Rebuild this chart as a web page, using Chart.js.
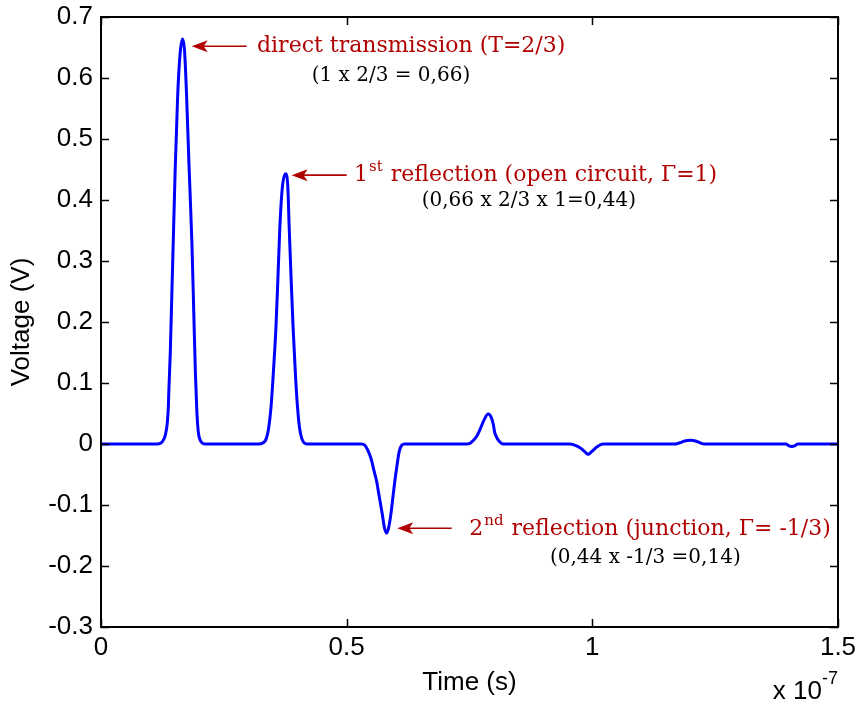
<!DOCTYPE html>
<html>
<head>
<meta charset="utf-8">
<script src="https://cdn.jsdelivr.net/npm/chart.js@4"></script>
<style>
  body { margin: 0; background: #fff; }
  canvas { display: block; }
</style>
</head>
<body>
<canvas id="chart" width="858" height="704"></canvas>
<script>
// Time in units of 1e-7 s, voltage in V
const timeValues = [
  0, 0.115, 0.125, 0.131, 0.135, 0.137, 0.138, 0.141, 0.144, 0.147, 0.151, 0.156, 0.161, 0.166, 0.170, 0.174, 0.179, 0.185, 0.189, 0.192, 0.195, 0.198, 0.202, 0.207, 0.212,
  0.320, 0.330, 0.336, 0.341, 0.346, 0.351, 0.356, 0.360, 0.364, 0.369, 0.3755, 0.380, 0.383, 0.387, 0.391, 0.396, 0.400, 0.404, 0.409, 0.419,
  0.530, 0.537, 0.543, 0.550, 0.556, 0.561, 0.566, 0.5725, 0.577, 0.5815, 0.586, 0.590, 0.594, 0.598, 0.603, 0.607, 0.612, 0.618,
  0.745, 0.751, 0.758, 0.765, 0.772, 0.780, 0.788, 0.794, 0.7985, 0.801, 0.804, 0.810, 0.819,
  0.955, 0.961, 0.975, 0.985, 0.9915, 0.998, 1.009, 1.022,
  1.170, 1.178, 1.188, 1.199, 1.210, 1.222, 1.228,
  1.394, 1.400, 1.406, 1.412, 1.418, 1.5
];
const voltageValues = [
  0, 0, 0.004, 0.015, 0.035, 0.06, 0.085, 0.15, 0.24, 0.33, 0.45, 0.57, 0.64, 0.664, 0.645, 0.575, 0.46, 0.33, 0.21, 0.12, 0.055, 0.02, 0.006, 0.001, 0,
  0, 0.002, 0.008, 0.025, 0.06, 0.12, 0.19, 0.27, 0.355, 0.42, 0.443, 0.425, 0.355, 0.27, 0.19, 0.11, 0.06, 0.027, 0.008, 0,
  0, -0.002, -0.010, -0.025, -0.045, -0.061, -0.085, -0.115, -0.138, -0.146, -0.135, -0.115, -0.088, -0.061, -0.032, -0.012, -0.002, 0,
  0, 0.001, 0.006, 0.013, 0.025, 0.040, 0.049, 0.044, 0.032, 0.020, 0.013, 0.005, 0,
  0, -0.001, -0.006, -0.013, -0.017, -0.013, -0.005, 0,
  0, 0.002, 0.005, 0.006, 0.005, 0.001, 0,
  0, -0.003, -0.004, -0.003, 0, 0
];

const xTicks = [0, 0.5, 1, 1.5];
const yTicks = [-0.3, -0.2, -0.1, 0, 0.1, 0.2, 0.3, 0.4, 0.5, 0.6, 0.7];

// annotation texts: [before superscript, superscript, after superscript]
const noteTitles = [
  ['direct transmission (T=2/3)', '', ''],
  ['1', 'st', ' reflection (open circuit, \u0393=1)'],
  ['2', 'nd', ' reflection (junction, \u0393= -1/3)']
];
const noteFormulas = ['(1 x 2/3 = 0,66)', '(0,66 x 2/3 x 1=0,44)', '(0,44 x -1/3 =0,14)'];

// annotation placement, in data units
const noteLayout = [
  { tip: [0.1846, 0.652], tail: 0.2965, text: [0.3175, 0.6425], sub: [0.4288, 0.5954] },
  { tip: [0.388, 0.4407], tail: 0.500, text: [0.515, 0.4312], sub: [0.6527, 0.3901] },
  { tip: [0.603, -0.138], tail: 0.7138, text: [0.7496, -0.1489], sub: [0.9138, -0.1944] }
];

const axisFont = { family: 'Liberation Sans, Arial, sans-serif', size: 26 };
const noteColor = '#b00000';
const titleFont = '22px "DejaVu Serif", serif';
const supFont = '15px "DejaVu Serif", serif';
const formulaFont = '20px "DejaVu Serif", serif';

const framePlugin = {
  id: 'frame',
  afterDatasetsDraw(chart) {
    const { ctx, chartArea: a, scales } = chart;
    ctx.save();
    ctx.strokeStyle = '#000';
    ctx.lineWidth = 1.5;
    ctx.beginPath();
    yTicks.forEach(v => {
      const y = Math.round(scales.y.getPixelForValue(v)) + 0.5;
      ctx.moveTo(a.left, y); ctx.lineTo(a.left + 8, y);
      ctx.moveTo(a.right, y); ctx.lineTo(a.right - 8, y);
    });
    xTicks.forEach(v => {
      const x = Math.round(scales.x.getPixelForValue(v)) + 0.5;
      ctx.moveTo(x, a.bottom); ctx.lineTo(x, a.bottom - 8);
      ctx.moveTo(x, a.top); ctx.lineTo(x, a.top + 8);
    });
    ctx.stroke();
    ctx.lineWidth = 2;
    ctx.strokeRect(a.left, a.top, a.right - a.left, a.bottom - a.top);
    ctx.restore();
  }
};

const notesPlugin = {
  id: 'notes',
  afterDraw(chart) {
    const { ctx, scales } = chart;
    const px = v => scales.x.getPixelForValue(v);
    const py = v => scales.y.getPixelForValue(v);
    ctx.save();
    noteLayout.forEach((n, i) => {
      const tx = px(n.tip[0]), ty = py(n.tip[1]);
      const sx = px(n.tail);
      // arrow
      ctx.strokeStyle = noteColor;
      ctx.fillStyle = noteColor;
      ctx.lineWidth = 1.6;
      ctx.beginPath();
      ctx.moveTo(sx, ty); ctx.lineTo(tx + 10, ty);
      ctx.stroke();
      ctx.beginPath();
      ctx.moveTo(tx, ty);
      ctx.lineTo(tx + 16, ty - 6);
      ctx.lineTo(tx + 12, ty);
      ctx.lineTo(tx + 16, ty + 6);
      ctx.closePath();
      ctx.fill();

      // title with optional superscript
      let x = px(n.text[0]);
      const base = py(n.text[1]);
      const [pre, sup, post] = noteTitles[i];
      ctx.textBaseline = 'alphabetic';
      ctx.textAlign = 'left';
      ctx.font = titleFont;
      ctx.fillText(pre, x, base);
      x += ctx.measureText(pre).width;
      if (sup) {
        ctx.font = supFont;
        ctx.fillText(sup, x + 1, base - 10);
        x += ctx.measureText(sup).width + 2;
        ctx.font = titleFont;
        ctx.fillText(post, x, base);
      }

      ctx.fillStyle = '#000';
      ctx.font = formulaFont;
      ctx.fillText(noteFormulas[i], px(n.sub[0]), py(n.sub[1]));
    });

    // axis multiplier
    const a = chart.chartArea;
    ctx.fillStyle = '#000';
    ctx.font = '26px ' + axisFont.family;
    ctx.textAlign = 'right';
    ctx.fillText('x 10', a.right - 16, 699);
    ctx.font = '18px ' + axisFont.family;
    ctx.textAlign = 'left';
    ctx.fillText('-7', a.right - 16, 684);
    ctx.restore();
  }
};

const points = timeValues.map((t, i) => ({ x: t, y: voltageValues[i] }));

new Chart(document.getElementById('chart'), {
  type: 'line',
  data: {
    datasets: [{
      data: points,
      borderColor: '#0000ff',
      borderWidth: 3,
      pointRadius: 0,
      fill: false,
      cubicInterpolationMode: 'monotone'
    }]
  },
  options: {
    responsive: false,
    devicePixelRatio: 1,
    animation: false,
    layout: { padding: { top: 17, right: 20, left: 0, bottom: 0 } },
    plugins: { legend: { display: false }, tooltip: { enabled: false } },
    scales: {
      x: {
        type: 'linear',
        min: 0,
        max: 1.5,
        afterFit: s => { s.height = 77; s.paddingLeft = 0; s.paddingRight = 0; },
        afterBuildTicks: s => { s.ticks = xTicks.map(v => ({ value: v })); },
        grid: { display: false, drawTicks: false },
        border: { display: false },
        ticks: {
          color: '#000',
          font: axisFont,
          padding: 5,
          maxRotation: 0,
          callback: v => String(Math.round(v * 10) / 10)
        },
        title: { display: true, text: 'Time (s)', color: '#000', font: axisFont, padding: { top: 0, bottom: 6 } }
      },
      y: {
        min: -0.3,
        max: 0.7,
        afterFit: s => { s.width = 101; s.paddingTop = 0; s.paddingBottom = 0; },
        afterBuildTicks: s => { s.ticks = yTicks.map(v => ({ value: v })); },
        grid: { display: false, drawTicks: false },
        border: { display: false },
        ticks: {
          color: '#000',
          font: axisFont,
          padding: 8,
          callback: v => { const r = Math.round(v * 10) / 10; return r === 0 ? '0' : String(r); }
        },
        title: { display: true, text: 'Voltage (V)', color: '#000', font: axisFont, padding: { top: 6, bottom: 0 } }
      }
    }
  },
  plugins: [framePlugin, notesPlugin]
});
</script>
</body>
</html>
